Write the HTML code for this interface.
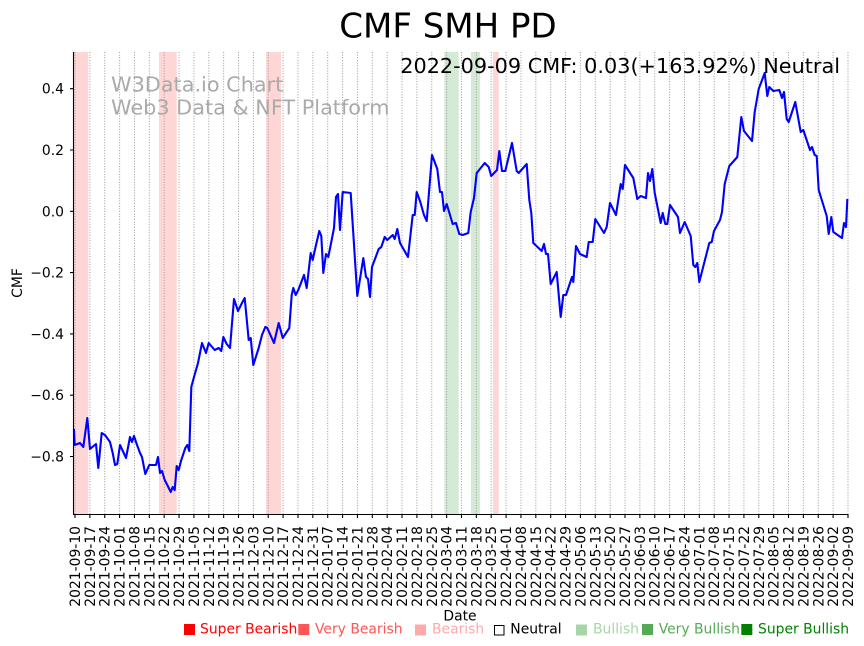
<!DOCTYPE html>
<html><head><meta charset="utf-8"><style>
html,body{margin:0;padding:0;background:#fff;}
svg{display:block;}
text{font-family:"DejaVu Sans","Liberation Sans",sans-serif;}
</style></head><body>
<svg width="864" height="646" viewBox="0 0 864 646" xmlns="http://www.w3.org/2000/svg">
<rect width="864" height="646" fill="#fff"/>
<!-- bands -->
<g>
<rect x="74" y="52" width="14.3" height="462" fill="#ffd6d6"/>
<rect x="159" y="52" width="17.7" height="462" fill="#ffd6d6"/>
<rect x="266" y="52" width="15" height="462" fill="#ffd6d6"/>
<rect x="444.3" y="52" width="14.4" height="462" fill="#d5ead5"/>
<rect x="471" y="52" width="9" height="462" fill="#d5ead5"/>
<rect x="493" y="52" width="5.7" height="462" fill="#ffd6d6"/>
</g>
<!-- grid -->
<path stroke="#999" stroke-width="1" stroke-dasharray="1,1.65" fill="none" d="M75,52V514M89.87,52V514M104.73,52V514M119.6,52V514M134.46,52V514M149.33,52V514M164.19,52V514M179.06,52V514M193.92,52V514M208.79,52V514M223.65,52V514M238.52,52V514M253.38,52V514M268.25,52V514M283.11,52V514M297.98,52V514M312.84,52V514M327.71,52V514M342.57,52V514M357.44,52V514M372.3,52V514M387.17,52V514M402.03,52V514M416.9,52V514M431.76,52V514M446.63,52V514M461.49,52V514M476.36,52V514M491.22,52V514M506.09,52V514M520.95,52V514M535.82,52V514M550.68,52V514M565.55,52V514M580.41,52V514M595.28,52V514M610.14,52V514M625.01,52V514M639.87,52V514M654.74,52V514M669.6,52V514M684.47,52V514M699.33,52V514M714.2,52V514M729.06,52V514M743.93,52V514M758.79,52V514M773.66,52V514M788.52,52V514M803.39,52V514M818.25,52V514M833.12,52V514M847.98,52V514"/>
<!-- watermark -->
<text x="111" y="91.5" font-size="20.8" fill="#aaaaaa">W3Data.io Chart</text>
<text x="111" y="114.5" font-size="20.8" fill="#aaaaaa">Web3 Data &amp; NFT Platform</text>
<!-- series -->
<polyline fill="none" stroke="#0000ff" stroke-width="2.1" stroke-linejoin="round" stroke-linecap="square" points="74,430 74.7,445 80,443 83.3,447 87.3,418 90,449 96,444 98.3,468 101.7,433 105,435 110,442 112.7,453 115,465 117.3,464 120,445 123.3,452 126,458 130,437 132,442 134,436 136.7,444 140,453 142,457 145.3,474 149.3,465 156,465 158,457 160,473 162,471 164.7,480 167.3,485 170.7,492 172.7,487 174.7,490 176.7,466 178.7,470 181.3,460 185.3,448 187.3,445 189.3,451 191.3,387 194,377 198,363 202,343 206,353 208.7,343 214.7,350 218.7,348 221.3,351 223.3,337 226.7,344 230,348 234,299 238,311 242,303 244.7,298 248.7,340 250.7,338 253.3,365 258.7,348 262,335 265.3,327 267.3,328 274,343 278.7,323 282.7,338 289.3,328 291.7,295 293.3,288 295.7,295 298.3,290 304,275 306.7,288 310.7,253 312.7,260 316,245 319.3,231 321.3,236 323.3,273 326,254 328.3,257 330.7,245 334,228 336,197 338,194 340,230 342.7,192 350.7,193 357.3,296 363.3,258 366,277 368,279 370,297 372,267 378.7,249 381.3,247 384.7,237 387.3,240 392.7,235 394.7,239 397.3,229 400,243 408,257 412.7,215 414.7,215 416.7,192 420,201 424,215 426.7,221 432,155 437.3,169 440,192 442,192 444,211 446.7,204 452.7,224 456,223 459.3,234 462.7,235 468.3,233 470.7,212 474,198 476.7,173 484.7,163 488.7,167 491.2,176 497,170 499.3,151 502,171 505.3,171 512,143 516.7,171 518.7,173 526.7,164 529.3,200 531.3,213 533.3,243 541.7,251 544,244 546,254 548,254 550.7,284 556.7,272 560.7,317 563.3,295 566,295 570,283 572,277 573.3,282 576,246 580,254 586.7,257 588.7,242 592.7,242 595.3,219 604,233 606.7,227 610,203 616,215 620.7,184 622.7,189 625,165 633.3,178 637.3,199 640.7,196 646,198 648,173 650,181 652.3,169 654.7,193 660.7,223 662.7,213 665.3,224 667.3,224 670,205 678,217 680,233 684.7,222 690.7,236 693.3,265 695.3,267 697.3,263 699.3,282 709.3,243 711.7,242 714,231 720,220 722,212 724.7,184 729.3,166 737.3,157 741.3,117 744,131 752,141 754.7,112 758.7,89 764.7,73 767.3,96 769.3,87 773.3,91 779.3,90 782,98 784,92 786.7,119 788.7,122 795.3,102 800.7,132 803.3,130 810,150 812,147 814.7,155 816.7,156 818.7,190 826.7,216 828.7,234 831.3,217 833.3,232 842,238 844,223 846,227 847.3,200"/>
<!-- spines -->
<path d="M73.5,52V514.5H848.5" stroke="#000" stroke-width="1.1" fill="none"/>
<!-- y ticks -->
<path stroke="#000" stroke-width="1.1" d="M70,88.7H73.5M70,150H73.5M70,211.3H73.5M70,272.6H73.5M70,333.9H73.5M70,395.2H73.5M70,456.5H73.5"/>
<g font-size="13.9" text-anchor="end" fill="#000">
<text x="64" y="93.7">0.4</text>
<text x="64" y="155">0.2</text>
<text x="64" y="216.3">0.0</text>
<text x="64" y="277.6">−0.2</text>
<text x="64" y="338.9">−0.4</text>
<text x="64" y="400.2">−0.6</text>
<text x="64" y="461.5">−0.8</text>
</g>
<!-- x ticks -->
<path stroke="#000" stroke-width="1.1" d="M75,514V518M89.87,514V518M104.73,514V518M119.6,514V518M134.46,514V518M149.33,514V518M164.19,514V518M179.06,514V518M193.92,514V518M208.79,514V518M223.65,514V518M238.52,514V518M253.38,514V518M268.25,514V518M283.11,514V518M297.98,514V518M312.84,514V518M327.71,514V518M342.57,514V518M357.44,514V518M372.3,514V518M387.17,514V518M402.03,514V518M416.9,514V518M431.76,514V518M446.63,514V518M461.49,514V518M476.36,514V518M491.22,514V518M506.09,514V518M520.95,514V518M535.82,514V518M550.68,514V518M565.55,514V518M580.41,514V518M595.28,514V518M610.14,514V518M625.01,514V518M639.87,514V518M654.74,514V518M669.6,514V518M684.47,514V518M699.33,514V518M714.2,514V518M729.06,514V518M743.93,514V518M758.79,514V518M773.66,514V518M788.52,514V518M803.39,514V518M818.25,514V518M833.12,514V518M847.98,514V518"/>
<g font-size="13.9" text-anchor="end" fill="#000">
<text transform="translate(80,526) rotate(-90)">2021-09-10</text>
<text transform="translate(94.87,526) rotate(-90)">2021-09-17</text>
<text transform="translate(109.73,526) rotate(-90)">2021-09-24</text>
<text transform="translate(124.6,526) rotate(-90)">2021-10-01</text>
<text transform="translate(139.46,526) rotate(-90)">2021-10-08</text>
<text transform="translate(154.33,526) rotate(-90)">2021-10-15</text>
<text transform="translate(169.19,526) rotate(-90)">2021-10-22</text>
<text transform="translate(184.06,526) rotate(-90)">2021-10-29</text>
<text transform="translate(198.92,526) rotate(-90)">2021-11-05</text>
<text transform="translate(213.79,526) rotate(-90)">2021-11-12</text>
<text transform="translate(228.65,526) rotate(-90)">2021-11-19</text>
<text transform="translate(243.52,526) rotate(-90)">2021-11-26</text>
<text transform="translate(258.38,526) rotate(-90)">2021-12-03</text>
<text transform="translate(273.25,526) rotate(-90)">2021-12-10</text>
<text transform="translate(288.11,526) rotate(-90)">2021-12-17</text>
<text transform="translate(302.98,526) rotate(-90)">2021-12-24</text>
<text transform="translate(317.84,526) rotate(-90)">2021-12-31</text>
<text transform="translate(332.71,526) rotate(-90)">2022-01-07</text>
<text transform="translate(347.57,526) rotate(-90)">2022-01-14</text>
<text transform="translate(362.44,526) rotate(-90)">2022-01-21</text>
<text transform="translate(377.3,526) rotate(-90)">2022-01-28</text>
<text transform="translate(392.17,526) rotate(-90)">2022-02-04</text>
<text transform="translate(407.03,526) rotate(-90)">2022-02-11</text>
<text transform="translate(421.9,526) rotate(-90)">2022-02-18</text>
<text transform="translate(436.76,526) rotate(-90)">2022-02-25</text>
<text transform="translate(451.63,526) rotate(-90)">2022-03-04</text>
<text transform="translate(466.49,526) rotate(-90)">2022-03-11</text>
<text transform="translate(481.36,526) rotate(-90)">2022-03-18</text>
<text transform="translate(496.22,526) rotate(-90)">2022-03-25</text>
<text transform="translate(511.09,526) rotate(-90)">2022-04-01</text>
<text transform="translate(525.95,526) rotate(-90)">2022-04-08</text>
<text transform="translate(540.82,526) rotate(-90)">2022-04-15</text>
<text transform="translate(555.68,526) rotate(-90)">2022-04-22</text>
<text transform="translate(570.55,526) rotate(-90)">2022-04-29</text>
<text transform="translate(585.41,526) rotate(-90)">2022-05-06</text>
<text transform="translate(600.28,526) rotate(-90)">2022-05-13</text>
<text transform="translate(615.14,526) rotate(-90)">2022-05-20</text>
<text transform="translate(630.01,526) rotate(-90)">2022-05-27</text>
<text transform="translate(644.87,526) rotate(-90)">2022-06-03</text>
<text transform="translate(659.74,526) rotate(-90)">2022-06-10</text>
<text transform="translate(674.6,526) rotate(-90)">2022-06-17</text>
<text transform="translate(689.47,526) rotate(-90)">2022-06-24</text>
<text transform="translate(704.33,526) rotate(-90)">2022-07-01</text>
<text transform="translate(719.2,526) rotate(-90)">2022-07-08</text>
<text transform="translate(734.06,526) rotate(-90)">2022-07-15</text>
<text transform="translate(748.93,526) rotate(-90)">2022-07-22</text>
<text transform="translate(763.79,526) rotate(-90)">2022-07-29</text>
<text transform="translate(778.66,526) rotate(-90)">2022-08-05</text>
<text transform="translate(793.52,526) rotate(-90)">2022-08-12</text>
<text transform="translate(808.39,526) rotate(-90)">2022-08-19</text>
<text transform="translate(823.25,526) rotate(-90)">2022-08-26</text>
<text transform="translate(838.12,526) rotate(-90)">2022-09-02</text>
<text transform="translate(852.98,526) rotate(-90)">2022-09-09</text>
</g>
<!-- axis labels -->
<text x="460" y="620.7" font-size="13.9" text-anchor="middle">Date</text>
<text transform="translate(22,283) rotate(-90)" font-size="13.9" text-anchor="middle">CMF</text>
<!-- title -->
<text x="448" y="37.3" font-size="34" text-anchor="middle" fill="#000">CMF SMH PD</text>
<!-- annotation -->
<text x="840" y="73" font-size="20.8" text-anchor="end" fill="#000">2022-09-09 CMF: 0.03(+163.92%) Neutral</text>
<!-- legend -->
<g font-size="13.9">
<rect x="184" y="624" width="11" height="11" fill="#ff0000"/>
<text x="200" y="633.5" fill="#ff0000">Super Bearish</text>
<rect x="298.3" y="624" width="11" height="11" fill="#ff5555"/>
<text x="315" y="633.5" fill="#ff5555">Very Bearish</text>
<rect x="415" y="624.5" width="11" height="11" fill="#ffaaaa"/>
<text x="432" y="633.5" fill="#ffaaaa">Bearish</text>
<rect x="494.5" y="625.5" width="9.5" height="9.5" fill="none" stroke="#000" stroke-width="1"/>
<text x="510.3" y="633.5" fill="#000">Neutral</text>
<rect x="576" y="624.5" width="11" height="11" fill="#a8d5a8"/>
<text x="593" y="633.5" fill="#a8d5a8">Bullish</text>
<rect x="642" y="624" width="11" height="11" fill="#55aa55"/>
<text x="658.7" y="633.5" fill="#55aa55">Very Bullish</text>
<rect x="741.3" y="624" width="11" height="11" fill="#008000"/>
<text x="758" y="633.5" fill="#008000">Super Bullish</text>
</g>
</svg>
</body></html>
